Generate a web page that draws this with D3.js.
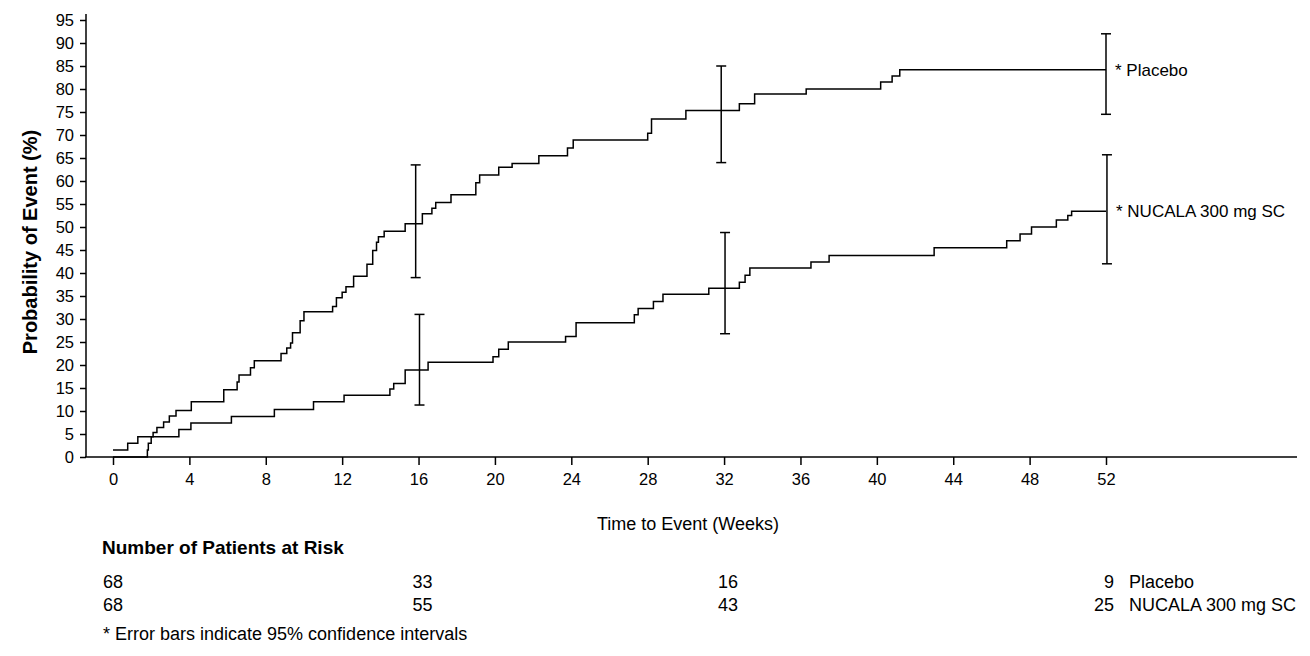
<!DOCTYPE html>
<html><head><meta charset="utf-8">
<script src="https://cdn.jsdelivr.net/npm/d3@7"></script>
<style>body{margin:0;background:#fff}text{font-family:"Liberation Sans",Arial,sans-serif}</style>
</head><body>
<svg id="c" width="1310" height="656"></svg>
<script>
const xTicks = [0,4,8,12,16,20,24,28,32,36,40,44,48,52];
const yTicks = d3.range(0,96,5);
// step points [week, probability %]
const placebo = [[0,0],[1.8,1.5],[1.85,3],[2.0,4.4],[2.1,5.3],[2.3,6.4],[2.65,7.6],[2.95,8.9],[3.3,10.1],[4.1,12],[5.8,14.6],[6.5,16.3],[6.6,17.8],[7.2,19.4],[7.4,20.9],[8.8,22.5],[9.1,23.7],[9.3,24.8],[9.4,27],[9.8,29.6],[10.0,31.6],[11.5,32.7],[11.7,34.6],[12.0,35.8],[12.2,37],[12.6,39.3],[13.3,41.9],[13.6,44.9],[13.8,46.7],[13.9,47.9],[14.2,49.1],[15.3,50.7],[16.2,52.9],[16.7,54.1],[16.9,55.3],[17.7,57.0],[19.0,59.6],[19.2,61.3],[20.2,63.0],[20.9,63.8],[22.3,65.5],[23.8,67.2],[24.1,68.9],[28.0,70.4],[28.2,73.5],[30.0,75.3],[32.8,76.8],[33.6,78.9],[36.3,80.0],[40.2,81.5],[40.8,82.8],[41.2,84.2],[52,84.2]];
const nucala = [[0,1.5],[0.77,3],[1.3,4.4],[3.45,6],[4.08,7.4],[6.2,8.8],[8.45,10.3],[10.5,12.0],[12.1,13.4],[14.5,14.8],[14.7,16.0],[15.3,18.9],[16.5,20.6],[19.9,21.8],[20.2,23.4],[20.7,25.0],[23.7,26.2],[24.25,29.2],[27.3,30.9],[27.5,32.3],[28.3,33.8],[28.8,35.4],[31.2,36.7],[32.8,38.0],[33.1,39.5],[33.35,41.1],[36.55,42.4],[37.5,43.8],[43.0,45.5],[46.8,47.0],[47.5,48.5],[48.1,50.0],[49.4,51.5],[50.0,52.5],[50.2,53.4],[52,53.4]];
const placeboCI = [[15.85,39,63.5],[31.85,64,85],[52,74.5,92]];
const nucalaCI = [[16.05,11.3,31],[32.05,26.8,48.8],[52.05,42,65.7]];
const riskWeeks = [0,16,32,52];
const riskPlacebo = [68,33,16,9];
const riskNucala = [68,55,43,25];

const svg = d3.select("#c");
const x = d3.scaleLinear().domain([0,52]).range([113,1106]);
const y = d3.scaleLinear().domain([0,95]).range([457,20]);

const gx = svg.append("g").attr("transform","translate(0,457)")
  .call(d3.axisBottom(x).tickValues(xTicks).tickSize(8).tickPadding(8));
gx.select(".domain").remove();
gx.selectAll("text").attr("font-size",16.5).attr("fill","#000").attr("font-family","Liberation Sans, Arial");
gx.selectAll("line").attr("stroke","#000").attr("stroke-width",1.5);
svg.append("line").attr("x1",85).attr("x2",1297).attr("y1",457).attr("y2",457).attr("stroke","#000").attr("stroke-width",1.5);

const gy = svg.append("g").attr("transform","translate(86,0)")
  .call(d3.axisLeft(y).tickValues(yTicks).tickSize(6).tickPadding(6));
gy.select(".domain").remove();
gy.selectAll("text").attr("font-size",16.5).attr("fill","#000").attr("font-family","Liberation Sans, Arial");
gy.selectAll("line").attr("stroke","#000").attr("stroke-width",1.5);
svg.append("line").attr("x1",86).attr("x2",86).attr("y1",14).attr("y2",457).attr("stroke","#000").attr("stroke-width",1.5);

const line = d3.line().x(d=>x(d[0])).y(d=>y(d[1])).curve(d3.curveStepAfter);
[placebo,nucala].forEach(s=>svg.append("path").attr("d",line(s)).attr("fill","none").attr("stroke","#000").attr("stroke-width",1.5));

[placeboCI,nucalaCI].forEach(ci=>ci.forEach(d=>{
  const g=svg.append("g").attr("stroke","#000").attr("stroke-width",1.5);
  g.append("line").attr("x1",x(d[0])).attr("x2",x(d[0])).attr("y1",y(d[1])).attr("y2",y(d[2]));
  [d[1],d[2]].forEach(v=>g.append("line").attr("x1",x(d[0])-5).attr("x2",x(d[0])+5).attr("y1",y(v)).attr("y2",y(v)));
}));

const t=(xx,yy,s,o={})=>svg.append("text").attr("x",xx).attr("y",yy).attr("font-size",o.size||17)
  .attr("font-weight",o.bold?"bold":"normal").attr("text-anchor",o.anchor||"start").text(s);
t(1115,y(84.2)+6,"* Placebo");
t(1116,y(53.4)+6,"* NUCALA 300 mg SC");
t(688,530,"Time to Event (Weeks)",{anchor:"middle",size:18});
svg.append("text").attr("transform","translate(37,242) rotate(-90)").attr("text-anchor","middle")
  .attr("font-size",20).attr("font-weight","bold").text("Probability of Event (%)");
t(102,554,"Number of Patients at Risk",{bold:true,size:19});
riskWeeks.forEach((w,i)=>{
  const last=i===riskWeeks.length-1;
  const xx = last ? 1114 : (i===0?103:x(w)-6);
  t(xx,588,riskPlacebo[i],{anchor:last?"end":"start",size:18});
  t(xx,611,riskNucala[i],{anchor:last?"end":"start",size:18});
});
t(1129,588,"Placebo",{size:18});
t(1129,611,"NUCALA 300 mg SC",{size:18});
t(103,640,"* Error bars indicate 95% confidence intervals",{size:18});
</script></body></html>
